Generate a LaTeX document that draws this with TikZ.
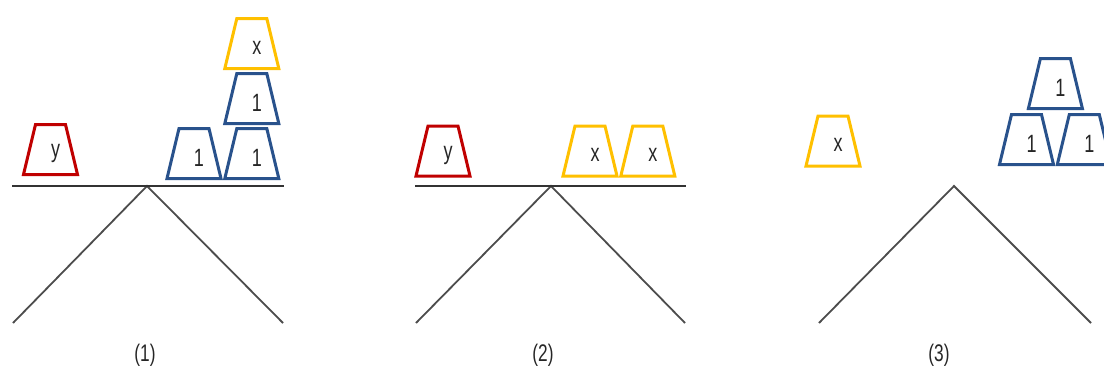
\documentclass[tikz,border=0pt]{standalone}
\usepackage{fontspec}
\newfontfamily\narrowsans{Liberation Sans}[FakeStretch=0.72]
\definecolor{cupred}{RGB}{192,0,0}
\definecolor{cupblue}{RGB}{41,82,140}
\definecolor{cupyellow}{RGB}{255,192,0}
\usetikzlibrary{shapes.geometric}

\begin{document}
\begin{tikzpicture}[x=1pt, y=-1pt,
            cup/.style={trapezium, trapezium angle=76.5,
                text width=30pt, text height=50pt, text depth=0pt, inner sep=0pt,
                draw=#1, line width=3pt, fill=white},
            num/.style={font=\narrowsans\fontsize{25}{25}\selectfont,
                text=black!85, shift={(5,4)}},
            beam/.style={line width=2.5pt, black!80},
            leg/.style={line width=1.8pt, black!70},
            panlbl/.style={font=\narrowsans\fontsize{24}{24}\selectfont, text=black!85}
          ]
          \useasboundingbox (0,0) rectangle (1104,370);
          \clip (0,0) rectangle (1104,370);
          \coordinate (a1) at (147,186);
          \coordinate (l1) at (13,323);
          \coordinate (r1) at (283,323);
          \coordinate (b1l) at (12,186);
          \coordinate (b1r) at (284,186);
          \coordinate (a2) at (551,186);
          \coordinate (l2) at (416,323);
          \coordinate (r2) at (685,323);
          \coordinate (b2l) at (415,186);
          \coordinate (b2r) at (686,186);
          \coordinate (a3) at (954,186);
          \coordinate (l3) at (819,323);
          \coordinate (r3) at (1091,323);
          \draw[leg] (l1) -- (a1) -- (r1);
          \draw[leg] (l2) -- (a2) -- (r2);
          \draw[leg] (l3) -- (a3) -- (r3);
          \draw[beam] (b1l) -- (b1r);
          \draw[beam] (b2l) -- (b2r);
          \node[cup=cupred, label={[num]center:y}] (c1y) at (50.5,149.5) {};
          \node[cup=cupblue, label={[num]center:1}] (c1a) at (194,153.5) {};
          \node[cup=cupblue, anchor=bottom left corner, label={[num]center:1}]
          (c1b) at (c1a.bottom right corner) {};
          \node[cup=cupblue, anchor=bottom side, label={[num]center:1}]
          (c1c) at ([yshift=2pt]c1b.top side) {};
          \node[cup=cupyellow, anchor=bottom side, label={[num]center:x}]
          (c1x) at ([yshift=2pt]c1c.top side) {};
          \node[cup=cupred, label={[num]center:y}] (c2y) at (443,151) {};
          \node[cup=cupyellow, label={[num]center:x}] (c2a) at (590,151) {};
          \node[cup=cupyellow, anchor=bottom left corner, label={[num]center:x}]
          (c2b) at (c2a.bottom right corner) {};
          \node[cup=cupyellow, label={[num]center:x}] (c3x) at (833,141) {};
          \node[cup=cupblue, label={[num]center:1}] (c3a) at (1026.5,139.5) {};
          \node[cup=cupblue, anchor=bottom left corner, label={[num]center:1}]
          (c3b) at (c3a.bottom right corner) {};
          \node[cup=cupblue, anchor=bottom side, label={[num]center:1}]
          (c3c) at ([yshift=3pt]c3a.bottom right corner |- c3a.top side) {};
          \node[panlbl] (t1) at (145,355) {(1)};
          \node[panlbl] (t2) at (543,355) {(2)};
          \node[panlbl] (t3) at (939,355) {(3)};
        \end{tikzpicture}
\end{document}
